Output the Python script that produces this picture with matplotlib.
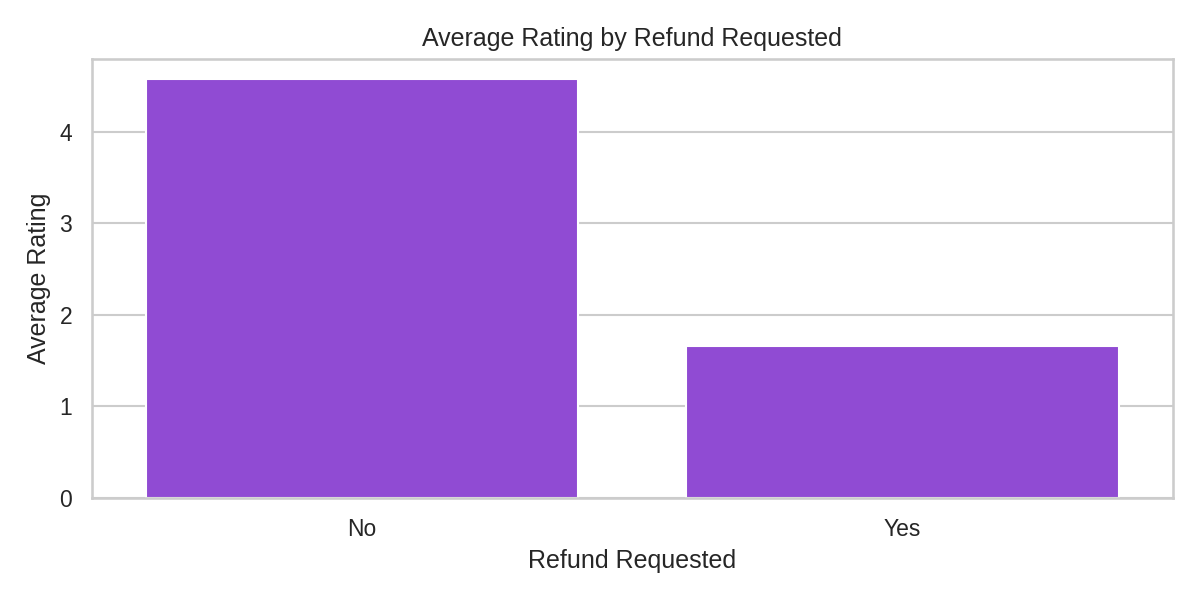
import matplotlib
matplotlib.use("Agg")
import matplotlib.pyplot as plt
import seaborn as sns

# data
categories = ["No", "Yes"]
avg_rating = [4.57, 1.66]

sns.set_theme(style="whitegrid")
plt.rcParams["font.family"] = ["Arial", "Liberation Sans", "DejaVu Sans"]

fig, ax = plt.subplots(figsize=(8, 4), dpi=150)
ax.bar(categories, avg_rating, width=0.8, color="#904BD3")
ax.set_xlim(-0.5, 1.5)
ax.xaxis.grid(False)
ax.set_title("Average Rating by Refund Requested")
ax.set_xlabel("Refund Requested")
ax.set_ylabel("Average Rating")
plt.tight_layout()
plt.savefig("out.png")
